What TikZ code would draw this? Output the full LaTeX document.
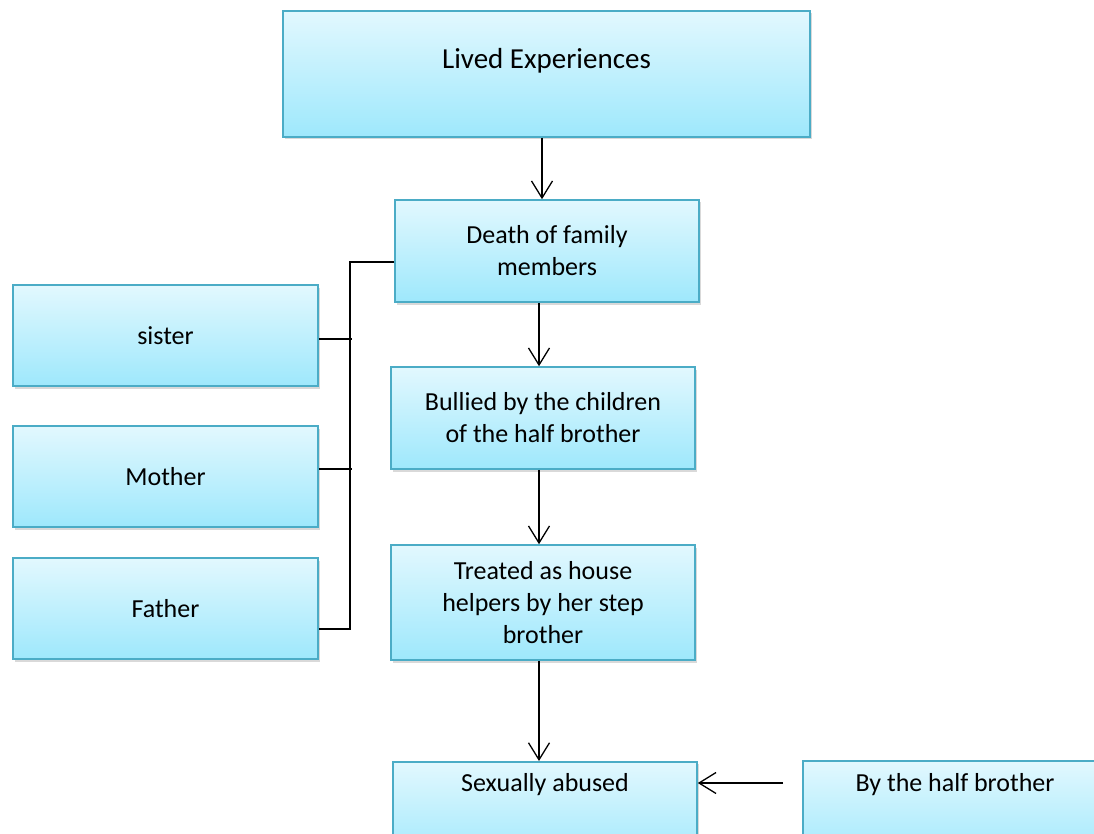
\documentclass[tikz,border=0pt]{standalone}
\usepackage{fontspec}
\setmainfont{Carlito}
\usetikzlibrary{arrows.meta,shadows}
\definecolor{boxline}{RGB}{75,172,198}
\definecolor{boxtop}{RGB}{226,248,254}
\definecolor{boxbottom}{RGB}{158,232,252}
\begin{document}
\begin{tikzpicture}[x=1pt,y=-1pt,
    stage/.style ={draw=boxline, line width=1.6pt, top color=boxtop, bottom color=boxbottom,
      drop shadow={shadow xshift=1.5pt, shadow yshift=-2.5pt, opacity=0.3},
      inner sep=0pt, minimum width=304pt, minimum height=102pt, align=center,
      font=\fontsize{26}{32}\selectfont},
    flow/.style ={line width=1.3pt, -{Straight Barb[length=17pt, width=21pt, line width=1.3pt]}},
    bracket/.style ={line width=2.4pt}]
   \useasboundingbox (0,0) rectangle (1094,834);
   \node[stage, anchor=north, minimum width=527pt, text height=58pt, text depth=68pt,
     font=\fontsize{29}{35}\selectfont] (lived) at (546.5,10) {Lived Experiences};
   \node[stage] (death)  at (547,251)  {Death of family\\members};
   \node[stage, minimum width=305pt, minimum height=101pt] (sister)  at (165.5,335.5)  {sister};
   \node[stage, minimum width=305pt, minimum height=101pt] (mother)  at (165.5,476.5)  {Mother};
   \node[stage, minimum width=305pt, minimum height=101pt] (father)  at (165.5,608.5)  {Father};
   \node[stage] (bullied)  at (543,418)  {Bullied by the children\\of the half brother};
   \node[stage, minimum height=115pt] (treated)  at (543,602.5)  {Treated as house\\helpers by her step\\brother};
   \node[stage, anchor=north, text height=30pt, text depth=72pt] (abused)  at (545,761)  {Sexually abused};
   \node[stage, anchor=north, text height=31pt, text depth=72pt] (halfbro)  at (955,760)  {By the half brother};
   \coordinate (hb) at (783,783);
   % arrows down the middle
   \draw[flow] ([xshift=-4.5pt]lived.south) -- ([xshift=-4.5pt]lived.south |- death.north);
   \draw[flow, line width=1.6pt] ([xshift=-8pt]death.south) -- ([xshift=-8pt]death.south |- bullied.north);
   \draw[flow] ([xshift=-4pt]bullied.south) -- ([xshift=-4pt]bullied.south |- treated.north);
   \draw[flow] ([xshift=-4pt]treated.south) -- ([xshift=-4pt]treated.south |- abused.north);
   \draw[flow] (hb) -- (hb -| abused.east);
   % family members
   \draw[bracket] ([yshift=-11pt]death.west) -- ++(-44,0) |- ([yshift=-20.5pt]father.east);
   \draw[bracket] ([yshift=-3.5pt]sister.east) -- ++(33,0);
   \draw[bracket] ([yshift=7.5pt]mother.east) -- ++(33,0);
 \end{tikzpicture}
\end{document}
